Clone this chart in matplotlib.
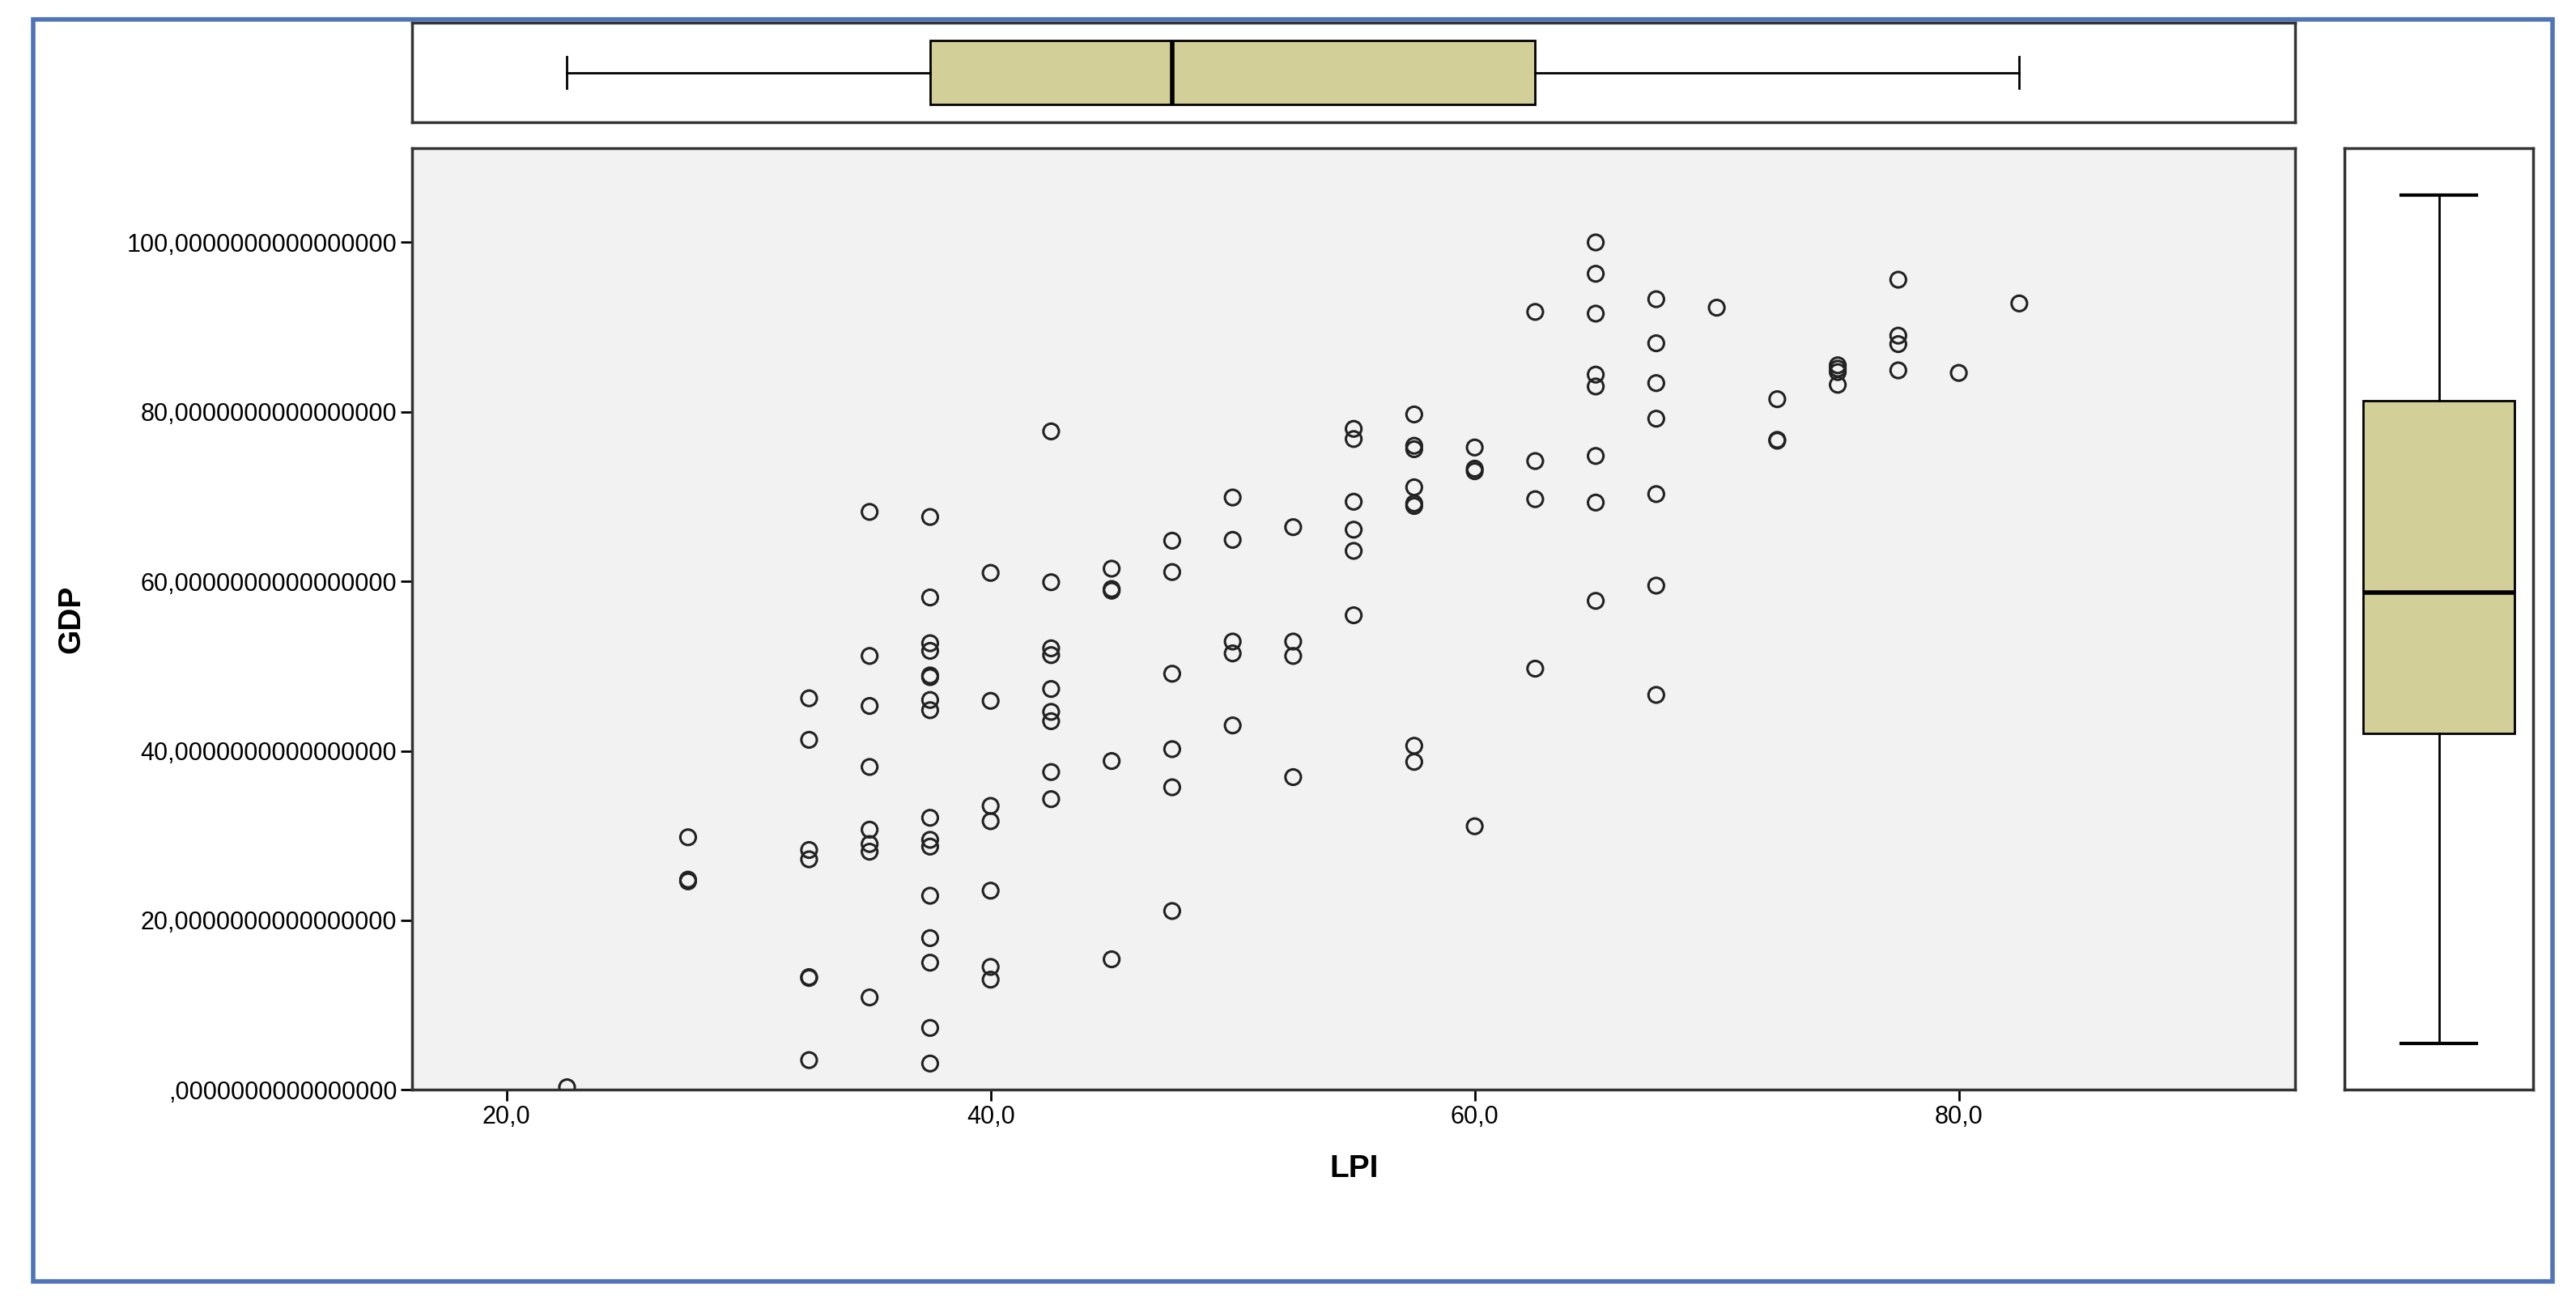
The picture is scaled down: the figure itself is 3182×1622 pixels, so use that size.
import matplotlib
matplotlib.use('Agg')
import matplotlib.pyplot as plt
from matplotlib.patches import Rectangle
import numpy as np

plt.rcParams['font.family'] = ['Liberation Sans', 'DejaVu Sans']

lpi_levels = [22.5, 27.5, 32.5, 35, 37.5, 40, 42.5, 45, 47.5, 50, 52.5, 55,
              57.5, 60, 62.5, 65, 67.5, 70, 72.5, 75, 77.5, 80, 82.5]
gdp_by_lpi = [
    [0.3],
    [29.8, 24.8, 24.6],
    [46.2, 41.3, 28.3, 27.2, 13.3, 13.2, 3.5],
    [68.2, 51.2, 45.3, 38.1, 30.7, 29.0, 28.1, 10.9],
    [67.6, 58.1, 52.7, 51.8, 48.9, 48.7, 46.0, 44.8, 32.1, 29.5, 28.7, 22.9, 17.9, 15.0, 7.3, 3.1],
    [61.0, 45.9, 33.5, 31.7, 23.5, 14.5, 13.0],
    [77.7, 59.9, 52.1, 51.3, 47.3, 44.6, 43.5, 37.5, 34.3],
    [61.5, 59.1, 58.9, 38.8, 15.4],
    [64.8, 61.1, 49.1, 40.2, 35.7, 21.1],
    [69.9, 64.9, 52.9, 51.5, 43.0],
    [66.4, 52.9, 51.2, 36.9],
    [78.0, 76.8, 69.4, 66.1, 63.6, 56.0],
    [79.7, 76.0, 75.6, 71.1, 69.2, 68.9, 40.6, 38.7],
    [75.8, 73.3, 73.0, 31.1],
    [91.8, 74.2, 69.7, 49.7],
    [100.0, 96.3, 91.6, 84.4, 83.0, 74.8, 69.3, 57.7],
    [93.3, 88.1, 83.4, 79.2, 70.3, 59.5, 46.6],
    [92.3],
    [81.5, 76.7, 76.6],
    [85.5, 85.1, 84.7, 83.2],
    [95.6, 89.0, 88.0, 84.9],
    [84.6],
    [92.8],
]
# box summaries as shown in the marginal plots
lpi_box = dict(whislo=22.5, q1=37.5, med=47.5, q3=62.5, whishi=82.5)
gdp_box = dict(whislo=5.5, q1=42.1, med=58.7, q3=81.3, whishi=105.6)

x_ticks = [20, 40, 60, 80]
x_tick_labels = ['20,0', '40,0', '60,0', '80,0']
y_ticks = [0, 20, 40, 60, 80, 100]
y_tick_labels = [',0000000000000000', '20,0000000000000000', '40,0000000000000000',
                 '60,0000000000000000', '80,0000000000000000', '100,0000000000000000']

lpi = np.concatenate([[x] * len(g) for x, g in zip(lpi_levels, gdp_by_lpi)])
gdp = np.concatenate(gdp_by_lpi)

fig = plt.figure(figsize=(31.82, 16.22), dpi=100)
fig.patches.append(Rectangle((0.013, 0.024), 0.978, 0.961, transform=fig.transFigure,
                             fill=False, edgecolor='#4f74b8', linewidth=4))

xlim = (16.1, 93.9)
ylim = (0, 111.1)
box_color = '#d2cf99'

ax = fig.add_axes([0.160, 0.170, 0.731, 0.717])
ax.set_facecolor('#f2f2f2')
ax.scatter(lpi, gdp, s=190, facecolors='none', edgecolors='#222222', linewidths=2.2, zorder=3)
ax.set_xlim(*xlim)
ax.set_ylim(*ylim)
ax.set_xticks(x_ticks, x_tick_labels)
ax.set_yticks(y_ticks, y_tick_labels)
ax.tick_params(labelsize=22, length=10, width=2)
ax.set_xlabel('LPI', fontsize=28, fontweight='bold', labelpad=22)
ax.set_ylabel('GDP', fontsize=28, fontweight='bold', labelpad=36)
for s in ax.spines.values():
    s.set_linewidth(2.5)
    s.set_color('#333333')

axt = fig.add_axes([0.160, 0.907, 0.731, 0.0755])
axt.bxp([dict(lpi_box, fliers=[])], vert=False, positions=[0], widths=0.8,
        patch_artist=True,
        boxprops=dict(facecolor=box_color, edgecolor='black', linewidth=2),
        medianprops=dict(color='black', linewidth=4),
        whiskerprops=dict(linewidth=2), capprops=dict(linewidth=2))
axt.set_xlim(*xlim)
axt.set_ylim(-0.62, 0.62)
axt.set_xticks([])
axt.set_yticks([])

axr = fig.add_axes([0.910, 0.170, 0.0735, 0.717])
axr.bxp([dict(gdp_box, fliers=[])], positions=[0], widths=0.8,
        patch_artist=True,
        boxprops=dict(facecolor=box_color, edgecolor='black', linewidth=2),
        medianprops=dict(color='black', linewidth=4),
        whiskerprops=dict(linewidth=2), capprops=dict(linewidth=3))
axr.set_ylim(*ylim)
axr.set_xlim(-0.5, 0.5)
axr.set_xticks([])
axr.set_yticks([])
for a in (axt, axr):
    for s in a.spines.values():
        s.set_linewidth(2.5)
        s.set_color('#333333')

fig.savefig('out.png', dpi=100)
